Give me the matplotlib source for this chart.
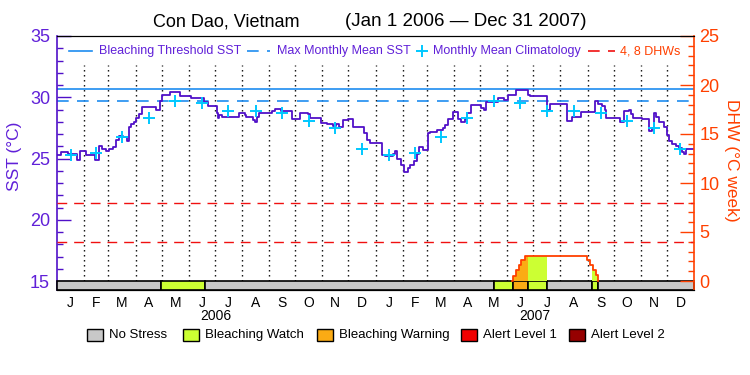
import matplotlib
matplotlib.use('Agg')
import matplotlib.pyplot as plt
from matplotlib.lines import Line2D
from matplotlib.patches import Rectangle
import numpy as np
import pandas as pd

plt.rcParams['font.family'] = ['Liberation Sans', 'DejaVu Sans']

# ---- data (days counted from Jan 1 2006) ----
sst_day = [0, 5, 13, 23, 26, 33, 44, 48, 52, 56, 60, 64, 68, 71, 76, 80, 82, 85, 88, 91, 94, 97,
           114, 118, 120, 130, 141, 154, 168, 173, 183, 185, 186, 189, 196, 208, 215, 217, 225,
           227, 229, 231, 238, 246, 250, 257, 269, 279, 288, 290, 302, 309, 316, 320, 323, 328,
           333, 339, 352, 355, 359,
           372, 376, 385, 387, 390, 394, 398, 402, 405, 409, 413, 415, 420, 425, 428, 435, 442,
           445, 448, 454, 460, 463, 467, 470, 475, 486, 489, 492, 505, 512, 517, 526, 540, 542,
           562, 565, 584, 590, 601, 616, 620, 624, 628, 629, 645, 650, 655, 658, 660, 670, 679,
           682, 684, 687, 690, 696, 699, 701, 705, 709, 713, 716, 718, 721, 730]
sst_val = [25.3, 25.5, 25.4, 24.9, 25.6, 25.3, 24.9, 26.05, 25.8, 25.6, 25.75, 25.95, 26.5, 26.8,
           26.75, 26.4, 27.6, 27.8, 28.0, 28.3, 28.6, 29.2,
           28.95, 29.7, 30.15, 30.4, 30.1, 29.9, 29.65, 29.25, 28.7, 28.3, 28.55, 28.35, 28.4,
           28.75, 28.55, 28.35, 28.15,
           28.0, 28.35, 28.7, 28.75, 28.9, 29.05, 28.85, 28.2, 28.7, 28.6, 28.3, 27.9, 27.85,
           27.65, 27.8, 27.6, 28.15,
           28.25, 27.6, 27.1, 26.5, 26.3,
           25.3, 25.2, 25.4, 25.6, 25.0, 24.5, 23.9, 24.2, 24.5, 24.8, 25.4, 25.95, 25.7, 27.05,
           27.2, 27.3, 27.5,
           27.75, 28.25, 28.8, 28.25, 28.0, 28.2, 28.7, 29.4, 29.1, 28.95, 29.65, 29.95, 29.75,
           30.2, 30.6, 30.2, 30.1,
           28.95, 29.45, 28.05, 28.35, 28.8, 29.7, 29.45, 29.25, 28.95, 28.3, 28.0, 28.85, 28.95,
           28.6, 28.3, 28.2, 27.25,
           27.5, 28.7, 28.4, 28.0, 27.6, 26.9, 26.4, 26.2, 26.0, 25.85, 25.55, 25.35, 25.75, 25.75]

# monthly mean climatology, Jan..Dec
clim_val = [25.3, 25.45, 26.75, 28.27, 29.68, 29.5, 28.9, 28.9, 28.75, 28.1, 27.46, 25.8]
mmm = max(clim_val)
threshold = mmm + 1.0

dhw_day = [522, 523, 526, 529, 532, 536, 607, 611, 614, 618, 620]
dhw_val = [0, 0.55, 1.1, 1.6, 2.15, 2.6, 2.15, 1.6, 1.1, 0.6, 0]
dhw_marks = [4, 8]

# stress level: 0 none, 1 watch, 2 warning, 3 alert 1, 4 alert 2
stress_day = [0, 119, 170, 501, 523, 540, 562, 613, 620]
stress_level = [0, 1, 0, 1, 2, 1, 0, 1, 0]

month_letters = ['J', 'F', 'M', 'A', 'M', 'J', 'J', 'A', 'S', 'O', 'N', 'D']
years = ['2006', '2007']
stress_names = ['No Stress', 'Bleaching Watch', 'Bleaching Warning', 'Alert Level 1', 'Alert Level 2']
stress_colors = ['#c8c8c8', '#ccff33', '#fbab14', '#f00000', '#960000']

# ---- colours ----
purple = '#5010c8'
purple_txt = '#6020d8'
blue = '#1e8cf0'
cyan = '#00c8ff'
orange = '#ff4000'
red = '#f01010'

months = pd.date_range('2006-01-01', '2008-01-01', freq='MS')
month_start = np.array((months - months[0]).days)
month_mid = (month_start[:-1] + month_start[1:]) / 2.0
ndays = month_start[-1]

ybot = 15 - 9 / 12.25


def fx(px):
    return px / 750


def fy(py):
    return 1 - py / 375


fig = plt.figure(figsize=(7.5, 3.75), dpi=100)
ax = fig.add_axes([57 / 750, 1 - 290 / 375, 637 / 750, 254 / 375])
ax2 = ax.twinx()

ax.set_xlim(0, ndays)
ax.set_ylim(ybot, 35)
ax2.set_ylim((ybot - 15) * 1.25, 25)

# month boundaries
ax.vlines(month_start[1:-1], 15, 32.6, colors='k', linestyles=(0, (1, 2.6)), lw=1)

# threshold + MMM
ax.axhline(threshold, color=blue, lw=1.2)
ax.axhline(mmm, color=blue, lw=1.2, ls=(0, (7, 5)))

# SST
ax.plot(sst_day, sst_val, drawstyle='steps-post', color=purple, lw=1.3, zorder=3)

# climatology crosses
ax.plot(month_mid, clim_val * 2, ls='none', marker='+', ms=9, mew=1.4, color=cyan, zorder=4)

# DHW
for v in dhw_marks:
    ax2.axhline(v, color=red, lw=1, ls=(0, (7, 5)))

days_all = np.arange(0, ndays + 1)
idx = np.searchsorted(dhw_day, days_all, side='right') - 1
dhw_daily = np.where(idx >= 0, np.array(dhw_val)[np.clip(idx, 0, None)], 0)
stress_end = stress_day[1:] + [ndays]
for s, e, lev in zip(stress_day, stress_end, stress_level):
    if lev > 0:
        d = np.arange(s, e + 1)
        ax2.fill_between(d, 0, dhw_daily[d], step='post', color=stress_colors[lev], lw=0)
ax2.plot(dhw_day, dhw_val, drawstyle='steps-post', color=orange, lw=1.3)

# stress bar
for s, e, lev in zip(stress_day, stress_end, stress_level):
    ax.add_patch(Rectangle((s, ybot), e - s, 15 - ybot, facecolor=stress_colors[lev],
                           edgecolor='k', lw=1.2, zorder=5, clip_on=False))

# axes styling
ax.spines['left'].set_color(purple)
ax.spines['left'].set_linewidth(1.2)
ax.spines['top'].set_color('k')
ax.spines['right'].set_visible(False)
ax2.spines['left'].set_visible(False)
ax2.spines['right'].set_color(orange)
ax2.spines['right'].set_linewidth(1.2)

ax.set_yticks([15, 20, 25, 30, 35])
ax.set_yticks(np.arange(15, 36, 1), minor=True)
ax.tick_params(axis='y', which='major', direction='in', length=10, width=1, color=purple,
               labelcolor=purple_txt, labelsize=13, pad=5)
ax.tick_params(axis='y', which='minor', direction='in', length=4.5, width=1, color=purple)
ax2.set_yticks([0, 5, 10, 15, 20, 25])
ax2.set_yticks(np.arange(0, 26, 1), minor=True)
ax2.tick_params(axis='y', which='major', direction='in', length=10, width=1, color=orange,
                labelcolor=orange, labelsize=13, pad=4)
ax2.tick_params(axis='y', which='minor', direction='in', length=4.5, width=1, color=orange)

ax.set_xticks(month_mid)
ax.set_xticklabels(month_letters * 2)
ax.tick_params(axis='x', length=0, pad=4, labelsize=10)
for i, yr in enumerate(years):
    ax.text(month_start[12 * i] + (month_start[12 * i + 12] - month_start[12 * i]) / 2, -0.102,
            yr, transform=ax.get_xaxis_transform(), ha='center', va='center', fontsize=10)

fig.text(fx(15), fy(156), 'SST (°C)', color=purple_txt, fontsize=12.5, rotation=90,
         ha='center', va='center')
fig.text(fx(731), fy(160), 'DHW (°C week)', color=orange, fontsize=12.5, rotation=270,
         ha='center', va='center')

fig.text(fx(153), fy(22), 'Con Dao, Vietnam', ha='left', va='center', fontsize=13)
fig.text(fx(345), fy(22), '(Jan 1 2006 — Dec 31 2007)', ha='left', va='center', fontsize=13.5)

# top legend
ly = fy(51)
fig.add_artist(Line2D([fx(69), fx(92)], [ly, ly], color=blue, lw=1.2))
fig.text(fx(99), ly, 'Bleaching Threshold SST', color=purple_txt, fontsize=9, va='center')
fig.add_artist(Line2D([fx(247), fx(270)], [ly, ly], color=blue, lw=1.2, ls=(0, (7, 5))))
fig.text(fx(277), ly, 'Max Monthly Mean SST', color=purple_txt, fontsize=9, va='center')
fig.add_artist(Line2D([fx(421.5)], [ly], color=cyan, marker='+', ms=9, mew=1.4, ls='none'))
fig.text(fx(433), ly, 'Monthly Mean Climatology', color=purple_txt, fontsize=9, va='center')
fig.add_artist(Line2D([fx(588), fx(615)], [ly, ly], color=red, lw=1.2, ls=(0, (7, 5))))
fig.text(fx(620), ly, '4, 8 DHWs', color=orange, fontsize=9, va='center')

# bottom legend
box_x = [87, 183, 317, 461, 569]
for bx, name, col in zip(box_x, stress_names, stress_colors):
    fig.add_artist(Rectangle((fx(bx), fy(341)), 16 / 750, 12 / 375, facecolor=col,
                             edgecolor='k', lw=1, transform=fig.transFigure))
    fig.text(fx(bx + 22), fy(335), name, fontsize=9.5, va='center')

fig.savefig('out.png', dpi=100)
